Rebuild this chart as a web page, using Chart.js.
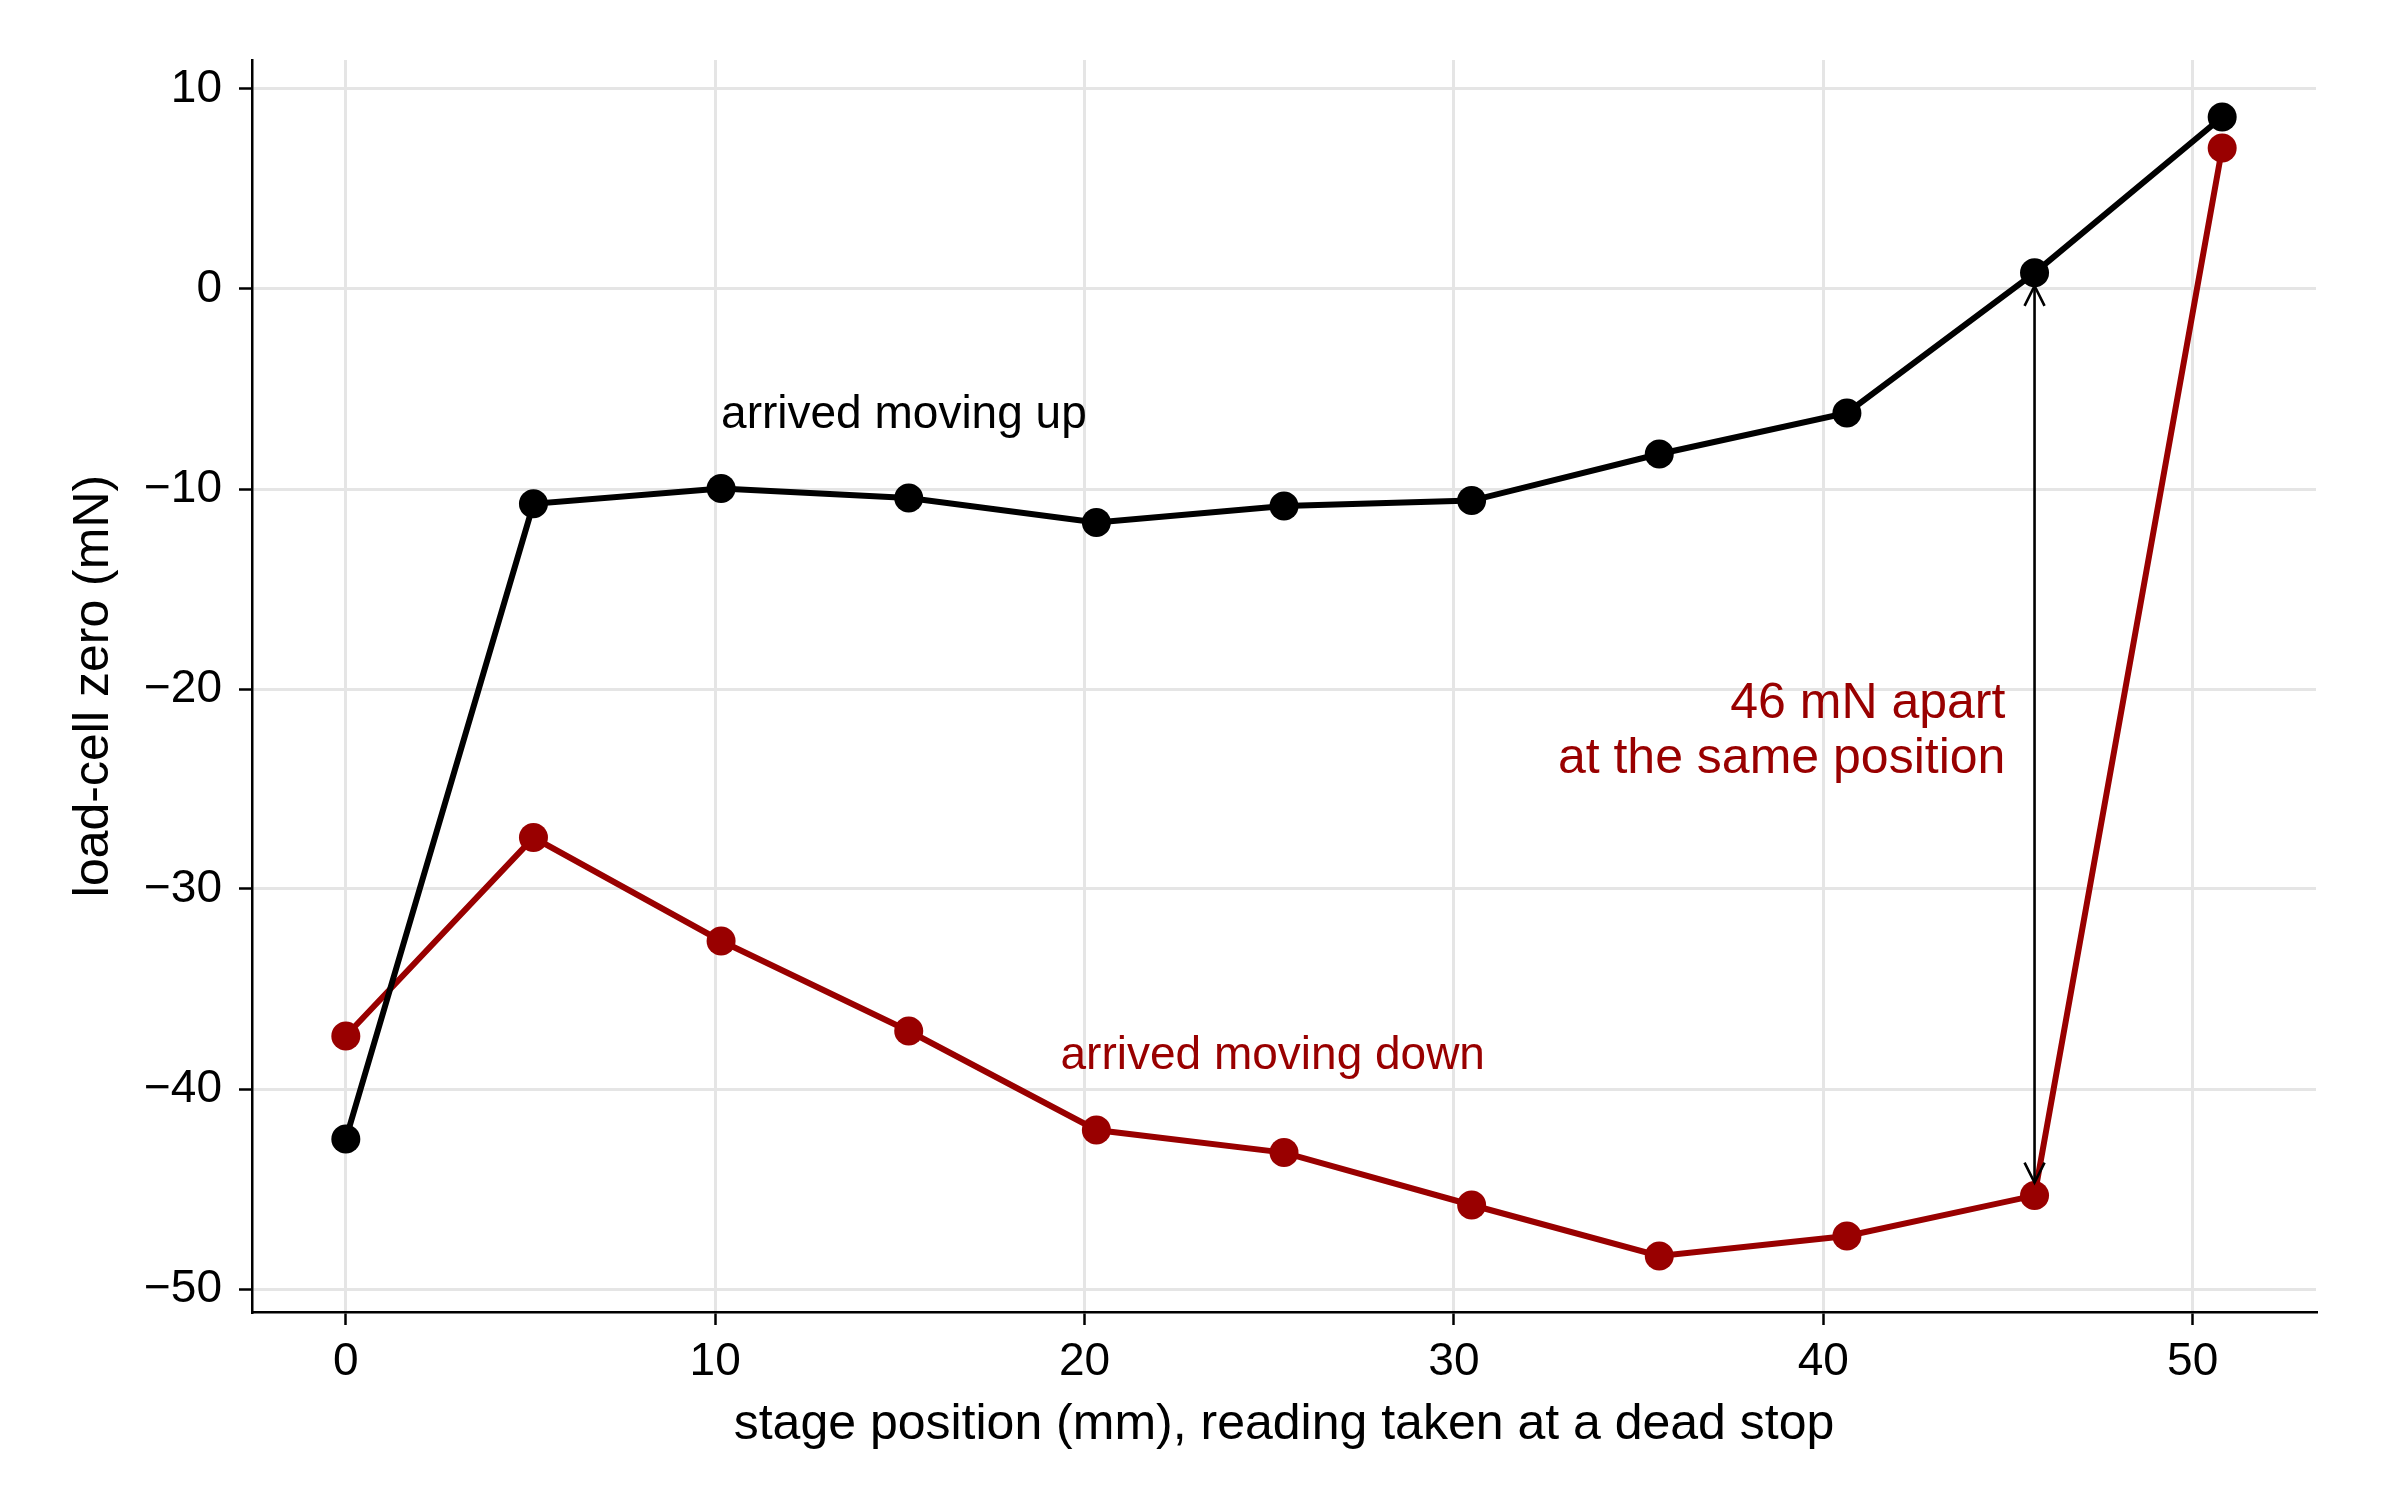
<!DOCTYPE html>
<html>
<head>
<meta charset="utf-8">
<script src="https://cdn.jsdelivr.net/npm/chart.js@4.4.1/dist/chart.umd.min.js"></script>
<style>
  html, body { margin: 0; padding: 0; background: #ffffff; }
  canvas { display: block; }
</style>
</head>
<body>
<canvas id="c" width="2400" height="1500" style="width:2400px;height:1500px"></canvas>
<script>
// ---- data ----
const positions = [0, 5.08, 10.16, 15.24, 20.32, 25.4, 30.48, 35.56, 40.64, 45.72, 50.8];
const arrivedUp = [-42.5, -10.74, -9.98, -10.45, -11.67, -10.85, -10.58, -8.25, -6.2, 0.81, 8.6];
const arrivedDown = [-37.35, -27.43, -32.6, -37.1, -42.05, -43.18, -45.8, -48.35, -47.35, -45.33, 7.05];
const xTicks = [0, 10, 20, 30, 40, 50];
const yTicks = [-50, -40, -30, -20, -10, 0, 10];
const gapIndex = 9; // position where the gap is annotated

const FONT = "'Liberation Sans', Arial, Helvetica, sans-serif";
const BLACK = '#000000';
const RED = '#990000';

const toXY = ys => positions.map((x, i) => ({ x: x, y: ys[i] }));
const minusSign = v => String(v).replace('-', '\u2212');

const textNotes = [
  { lines: ['arrived moving up'], x: 10.16, y: -6.95, align: 'left', color: BLACK, size: 46, lh: 0 },
  { lines: ['arrived moving down'], x: 19.35, y: -39.0, align: 'left', color: RED, size: 46, lh: 0 },
  { lines: ['46 mN apart', 'at the same position'], x: 44.93, y: -21.47, align: 'right', color: RED, size: 50, lh: 54.7 }
];

const annotPlugin = {
  id: 'annot',
  afterDatasetsDraw(chart) {
    const { ctx, scales: { x, y } } = chart;
    ctx.save();
    // double-headed arrow between the two readings at the same position
    const ax = x.getPixelForValue(positions[gapIndex]);
    const yTop = y.getPixelForValue(arrivedUp[gapIndex]) + 13;
    const yBot = y.getPixelForValue(arrivedDown[gapIndex]) - 13;
    ctx.strokeStyle = BLACK;
    ctx.lineWidth = 2.6;
    ctx.lineCap = 'butt';
    ctx.beginPath();
    ctx.moveTo(ax, yTop);
    ctx.lineTo(ax, yBot);
    ctx.stroke();
    const hl = 20, hw = 10;
    ctx.beginPath();
    ctx.moveTo(ax - hw, yTop + hl); ctx.lineTo(ax, yTop); ctx.lineTo(ax + hw, yTop + hl);
    ctx.moveTo(ax - hw, yBot - hl); ctx.lineTo(ax, yBot); ctx.lineTo(ax + hw, yBot - hl);
    ctx.stroke();
    // text labels
    ctx.textBaseline = 'alphabetic';
    textNotes.forEach(n => {
      ctx.font = n.size + 'px ' + FONT;
      ctx.fillStyle = n.color;
      ctx.textAlign = n.align;
      const px = x.getPixelForValue(n.x);
      const py = y.getPixelForValue(n.y);
      n.lines.forEach((t, i) => ctx.fillText(t, px, py + i * n.lh));
    });
    ctx.restore();
  }
};

Chart.defaults.font.family = FONT;
Chart.defaults.color = '#000';

new Chart(document.getElementById('c'), {
  type: 'line',
  data: {
    datasets: [
      {
        label: 'arrived moving up',
        data: toXY(arrivedUp),
        borderColor: BLACK,
        backgroundColor: BLACK,
        borderWidth: 6,
        pointRadius: 14.5,
        pointBorderWidth: 0,
        pointBackgroundColor: BLACK,
        tension: 0,
        fill: false
      },
      {
        label: 'arrived moving down',
        data: toXY(arrivedDown),
        borderColor: RED,
        backgroundColor: RED,
        borderWidth: 6,
        pointRadius: 14.5,
        pointBorderWidth: 0,
        pointBackgroundColor: RED,
        tension: 0,
        fill: false
      }
    ]
  },
  options: {
    responsive: false,
    devicePixelRatio: 1,
    animation: false,
    events: [],
    layout: { padding: { left: 0, right: 84, top: 60, bottom: 0 } },
    plugins: {
      legend: { display: false },
      tooltip: { enabled: false },
      title: { display: false }
    },
    scales: {
      x: {
        type: 'linear',
        min: -2.54,
        max: 53.34,
        afterFit: s => { s.height = 188; },
        afterBuildTicks: s => { s.ticks = xTicks.map(v => ({ value: v })); },
        grid: {
          color: '#e5e5e5',
          lineWidth: 3,
          drawTicks: true,
          tickLength: 13,
          tickColor: BLACK,
          tickWidth: 2.5
        },
        border: { display: true, color: BLACK, width: 2.5 },
        ticks: {
          font: { size: 46, family: FONT },
          color: BLACK,
          padding: 10,
          maxRotation: 0,
          autoSkip: false,
          callback: v => minusSign(v)
        },
        title: {
          display: true,
          text: 'stage position (mm), reading taken at a dead stop',
          font: { size: 50, family: FONT, lineHeight: 1.2 },
          color: BLACK,
          padding: { top: 0, bottom: 45 }
        }
      },
      y: {
        type: 'linear',
        min: -51.15,
        max: 11.45,
        afterFit: s => { s.width = 252; },
        afterBuildTicks: s => { s.ticks = yTicks.map(v => ({ value: v })); },
        grid: {
          color: '#e5e5e5',
          lineWidth: 3,
          drawTicks: true,
          tickLength: 13,
          tickColor: BLACK,
          tickWidth: 2.5
        },
        border: { display: true, color: BLACK, width: 2.5 },
        ticks: {
          font: { size: 46, family: FONT },
          color: BLACK,
          padding: 17,
          autoSkip: false,
          callback: v => minusSign(v)
        },
        title: {
          display: true,
          text: 'load-cell zero (mN)',
          font: { size: 50, family: FONT, lineHeight: 1.2 },
          color: BLACK,
          padding: { top: 64, bottom: 0 }
        }
      }
    }
  },
  plugins: [annotPlugin]
});
</script>
</body>
</html>
